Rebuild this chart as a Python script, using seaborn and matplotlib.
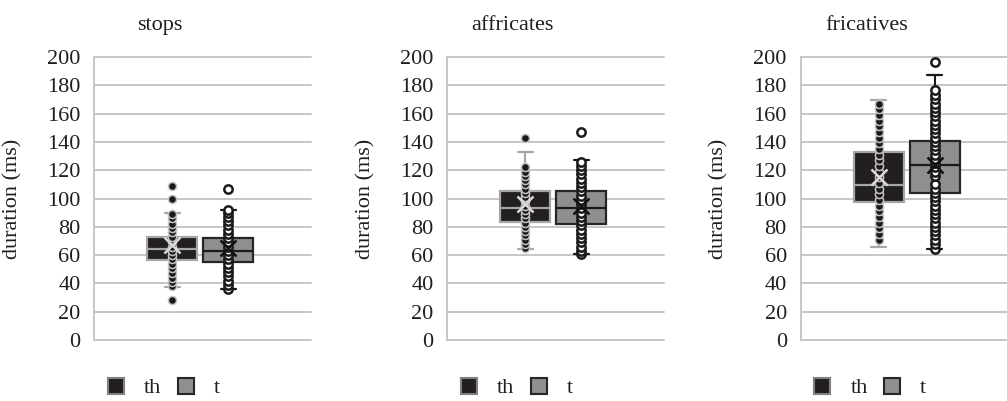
import matplotlib
matplotlib.use("Agg")
import matplotlib.pyplot as plt
from matplotlib.patches import Patch
import pandas as pd
import seaborn as sns

# Consonant classes and the two realisations compared
categories = ["stops", "affricates", "fricatives"]
series = ["th", "t"]

# Box summaries per class (ms): first quartile, median, third quartile,
# whisker ends and mean
th_q1 = [56.5, 83.6, 97.8]
th_med = [64.3, 93.3, 109.6]
th_q3 = [72.8, 105.3, 132.6]
th_lo = [37.5, 64.3, 65.4]
th_hi = [89.5, 132.9, 169.4]
th_mean = [67.0, 96.0, 115.0]

t_q1 = [54.9, 82.2, 103.6]
t_med = [63.1, 93.3, 123.4]
t_q3 = [72.3, 105.3, 140.9]
t_lo = [36.0, 60.5, 64.5]
t_hi = [91.9, 127.2, 187.3]
t_mean = [65.0, 95.0, 124.0]

# Individual token durations (ms)
stops_th = [28, 38, 41, 44, 47, 51, 54, 57, 60, 63, 66, 70, 73, 76, 79, 82, 86, 89, 100, 109]
stops_t = [36, 39, 42, 45, 48, 51, 54, 57, 60, 63, 66, 69, 72, 75, 78, 81, 84, 87, 90, 92, 107]
affricates_th = [65, 68, 71, 74, 77, 80, 83, 86, 89, 92, 95, 98, 101, 104, 107, 110,
                 113, 116, 119, 122, 143]
affricates_t = [60.5, 63, 66, 69, 72, 75, 78, 81, 84, 87, 90, 93, 96, 99, 102, 105,
                108, 111, 114, 117, 120, 123, 126, 147]
fricatives_th = [71, 75, 79, 83, 87, 91, 95, 99, 103, 107, 111, 115, 119, 123, 127,
                 131, 135, 139, 143, 147, 151, 155, 159, 163, 167]
fricatives_t = [64.5, 68, 71, 74, 77, 80, 83, 86, 89, 92, 95, 98, 101, 104, 107, 110,
                116, 119, 122, 125, 128, 131, 134, 137, 140, 143, 146, 149, 152, 155,
                158, 161, 164, 167, 170, 173, 177, 196.5]

points = {
    ("stops", "th"): stops_th, ("stops", "t"): stops_t,
    ("affricates", "th"): affricates_th, ("affricates", "t"): affricates_t,
    ("fricatives", "th"): fricatives_th, ("fricatives", "t"): fricatives_t,
}
summary = {
    "th": (th_q1, th_med, th_q3, th_lo, th_hi, th_mean),
    "t": (t_q1, t_med, t_q3, t_lo, t_hi, t_mean),
}

rows = []
for (cat, ser), vals in points.items():
    for v in vals:
        rows.append({"category": cat, "series": ser, "duration": v})
df = pd.DataFrame(rows)

sns.set_theme(style="white")
plt.rcParams["font.family"] = ["Liberation Serif", "DejaVu Serif"]
TEXT = "#1f1f1f"
GRID = "#c6c6c6"

style = {
    "th": dict(fill="#231f20", edge="#a6a6a6", line="#a6a6a6", mean="#d9d9d9",
               dot_face="#1a1a1a", dot_edge="#c4c4c4", dot_s=34, dot_lw=1.1,
               legend_edge="#808080"),
    "t": dict(fill="#8f8f8f", edge="#262626", line="#1a1a1a", mean="#111111",
              dot_face="#ffffff", dot_edge="#1a1a1a", dot_s=36, dot_lw=1.8,
              legend_edge="#262626"),
}
xpos = {"th": 0.36, "t": 0.617}

W, H = 1007, 401
fig = plt.figure(figsize=(W / 100, H / 100), dpi=100)
left_px = [94.3, 447.3, 800.7]
width_px = 217
top_px, bot_px = 57, 340

for i, cat in enumerate(categories):
    ax = fig.add_axes([left_px[i] / W, 1 - bot_px / H, width_px / W, (bot_px - top_px) / H])
    ax.set_xlim(0, 1)
    ax.set_ylim(0, 200)
    ax.set_yticks(range(0, 201, 20))
    ax.set_xticks([])
    ax.yaxis.grid(True, color=GRID, linewidth=1.4)
    ax.set_axisbelow(True)
    for gl in ax.get_ygridlines():
        gl.set_clip_on(False)
    for side in ["top", "right", "bottom"]:
        ax.spines[side].set_visible(False)
    ax.spines["left"].set_color(GRID)
    ax.spines["left"].set_linewidth(1.4)
    ax.tick_params(axis="y", length=0, pad=10, labelsize=16, labelcolor=TEXT)

    for ser in series:
        st = style[ser]
        q1, med, q3, lo, hi, mean = (arr[i] for arr in summary[ser])
        stats = [dict(med=med, q1=q1, q3=q3, whislo=lo, whishi=hi, mean=mean, fliers=[])]
        ax.bxp(stats, positions=[xpos[ser]], widths=0.23, patch_artist=True,
               showmeans=True, manage_ticks=False, capwidths=0.07,
               boxprops=dict(facecolor=st["fill"], edgecolor=st["edge"], linewidth=1.6),
               medianprops=dict(color=st["line"], linewidth=1.6),
               whiskerprops=dict(color=st["line"], linewidth=1.5),
               capprops=dict(color=st["line"], linewidth=1.6),
               meanprops=dict(marker="x", markeredgecolor=st["mean"], markersize=12,
                              markeredgewidth=1.8, zorder=7))
        sub = df[(df["category"] == cat) & (df["series"] == ser)].copy()
        sub["x"] = xpos[ser]
        sns.scatterplot(data=sub, x="x", y="duration", ax=ax, s=st["dot_s"],
                        color=st["dot_face"], edgecolor=st["dot_edge"],
                        linewidth=st["dot_lw"], zorder=5, legend=False, clip_on=False)

    ax.set_xlabel("")
    ax.set_ylabel("duration (ms)", fontsize=16, color=TEXT)
    ax.yaxis.set_label_coords(-0.333, 0.5)

    fig.text((left_px[i] + 65.5) / W, 1 - 30 / H, cat, ha="center", va="baseline",
             fontsize=16, color=TEXT)

    handles = [Patch(facecolor=style[s]["fill"], edgecolor=style[s]["legend_edge"],
                     linewidth=1.5) for s in series]
    ax.legend(handles, series, loc="center left", bbox_to_anchor=(0.063, -0.17),
              ncol=2, frameon=False, fontsize=16, handlelength=0.72,
              handleheight=0.72, handletextpad=0.9, columnspacing=0.75,
              borderpad=0, borderaxespad=0, labelcolor=TEXT)

fig.savefig("out.png", dpi=100)
